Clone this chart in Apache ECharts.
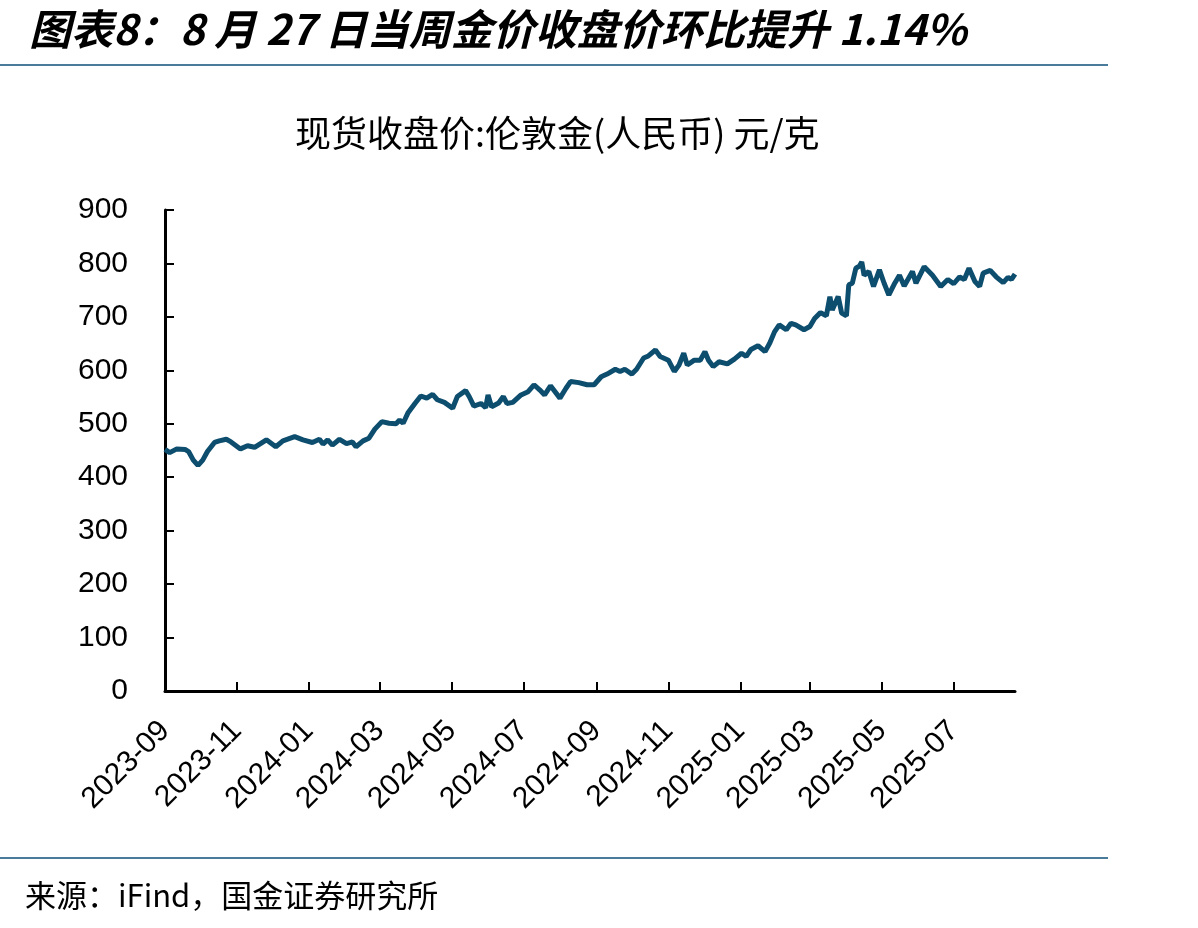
<!DOCTYPE html>
<html>
<head>
<meta charset="utf-8">
<script src="https://cdn.jsdelivr.net/npm/echarts@6/dist/echarts.min.js"></script>
<style>
  html, body { margin: 0; padding: 0; background: #fff; }
  #chartWrap { width: 1198px; height: 928px; }
</style>
</head>
<body>
<div id="chartWrap"></div>
<script>
// 现货收盘价:伦敦金(人民币) 元/克, 近似值
var dates = [
    '2023-09-01', '2023-09-05', '2023-09-11', '2023-09-18', '2023-09-21', '2023-09-25', '2023-09-29',
    '2023-10-03', '2023-10-07', '2023-10-13', '2023-10-17', '2023-10-23', '2023-10-27',
    '2023-11-04', '2023-11-10', '2023-11-16', '2023-11-26',
    '2023-12-04', '2023-12-10', '2023-12-20', '2023-12-27',
    '2024-01-04', '2024-01-10', '2024-01-13', '2024-01-17', '2024-01-21', '2024-01-27',
    '2024-02-02', '2024-02-07', '2024-02-10', '2024-02-16', '2024-02-21', '2024-02-26',
    '2024-03-03', '2024-03-09', '2024-03-15', '2024-03-18', '2024-03-21', '2024-03-25', '2024-03-31',
    '2024-04-05', '2024-04-10', '2024-04-15', '2024-04-19', '2024-04-25',
    '2024-05-02', '2024-05-06', '2024-05-13', '2024-05-16', '2024-05-20', '2024-05-26', '2024-05-30',
    '2024-06-01', '2024-06-04', '2024-06-10', '2024-06-14', '2024-06-17', '2024-06-22', '2024-06-29',
    '2024-07-05', '2024-07-10', '2024-07-15', '2024-07-19', '2024-07-24',
    '2024-08-01', '2024-08-06', '2024-08-10', '2024-08-17', '2024-08-24', '2024-08-30',
    '2024-09-05', '2024-09-10', '2024-09-17', '2024-09-21', '2024-09-25',
    '2024-10-01', '2024-10-05', '2024-10-11', '2024-10-15', '2024-10-21', '2024-10-25',
    '2024-11-01', '2024-11-06', '2024-11-10', '2024-11-14', '2024-11-17', '2024-11-23', '2024-11-28',
    '2024-12-02', '2024-12-05', '2024-12-09', '2024-12-14', '2024-12-21', '2024-12-27',
    '2025-01-02', '2025-01-06', '2025-01-10', '2025-01-16', '2025-01-22', '2025-01-26', '2025-01-30',
    '2025-02-03', '2025-02-09', '2025-02-13', '2025-02-17', '2025-02-24',
    '2025-03-01', '2025-03-05', '2025-03-10', '2025-03-15', '2025-03-18', '2025-03-20', '2025-03-25', '2025-03-28',
    '2025-04-01', '2025-04-03', '2025-04-06', '2025-04-09', '2025-04-12', '2025-04-14', '2025-04-16', '2025-04-20', '2025-04-24', '2025-04-29',
    '2025-05-03', '2025-05-07', '2025-05-12', '2025-05-16', '2025-05-20', '2025-05-27', '2025-05-30',
    '2025-06-06', '2025-06-13', '2025-06-20', '2025-06-26',
    '2025-07-01', '2025-07-06', '2025-07-10', '2025-07-14', '2025-07-19', '2025-07-23', '2025-07-26',
    '2025-08-01', '2025-08-06', '2025-08-12', '2025-08-16', '2025-08-19', '2025-08-22'
];
var prices = [
    452, 446, 453, 452, 448, 432, 422,
    432, 448, 465, 468, 471, 466,
    453, 459, 456, 470,
    457, 468, 476, 470,
    465, 471, 462, 470, 460, 471,
    463, 466, 457, 468, 473, 490,
    504, 501, 500, 507, 501, 520, 538,
    552, 548, 555, 545, 540,
    529, 551, 562, 551, 533, 538, 530,
    554, 532, 539, 551, 538, 540, 554,
    560, 573, 563, 554, 571,
    548, 566, 579, 577, 573, 573,
    588, 593, 602, 598, 602,
    593, 602, 623, 627, 638, 626,
    619, 598, 610, 632, 610, 619, 619,
    635, 619, 607, 616, 612, 621,
    632, 626, 639, 646, 635, 651, 672,
    685, 676, 688, 685, 676,
    682, 697, 708, 702, 738, 713, 738, 707,
    702, 760, 763, 791, 795, 803, 778, 785, 757, 788,
    763, 741, 763, 778, 758, 785, 763,
    794, 778, 757, 770,
    762, 775, 770, 791, 766, 757, 782,
    787, 775, 764, 774, 770, 780
];
// x轴刻度（两个月一个）
var tickMonths = ['2023-09', '2023-11', '2024-01', '2024-03', '2024-05', '2024-07',
    '2024-09', '2024-11', '2025-01', '2025-03', '2025-05', '2025-07'];
var yTicks = [0, 100, 200, 300, 400, 500, 600, 700, 800, 900];

var titleText = '图表8：8 月 27 日当周金价收盘价环比提升 1.14%';
var subTitle = '现货收盘价:伦敦金(人民币) 元/克';
var sourceText = '来源：iFind，国金证券研究所';

// 日期转成时间戳，x轴用value轴 + customValues 控制刻度
var toTime = function (s) {
    var p = s.split('-');
    return Date.UTC(+p[0], +p[1] - 1, p[2] ? +p[2] : 1);
};

var tickValues = tickMonths.map(toTime);
var seriesData = dates.map(function (d, i) { return [toTime(d), prices[i]]; });

var myChart = echarts.init(document.getElementById('chartWrap'));

var option = {
    backgroundColor: '#fff',
    animation: false,
    title: [{
        text: titleText,
        left: 24,
        top: 3,
        textStyle: {
            fontFamily: 'Noto Sans CJK SC',
            fontSize: 42,
            fontWeight: 'bold',
            fontStyle: 'italic',
            color: '#000'
        }
    }, {
        text: subTitle,
        left: 290,
        top: 110,
        textStyle: {
            fontFamily: 'Noto Sans CJK SC',
            fontSize: 36,
            fontWeight: 'normal',
            color: '#000'
        }
    }, {
        text: sourceText,
        left: 20,
        top: 875,
        textStyle: {
            fontFamily: 'Noto Sans CJK SC',
            fontSize: 31,
            fontWeight: 'normal',
            color: '#000'
        }
    }],
    graphic: [{
        type: 'line',
        shape: { x1: 0, y1: 65, x2: 1108, y2: 65 },
        style: { stroke: '#4a7b9b', lineWidth: 2 }
    }, {
        type: 'line',
        shape: { x1: 0, y1: 858, x2: 1108, y2: 858 },
        style: { stroke: '#4a7b9b', lineWidth: 2 }
    }],
    grid: {
        left: 165,
        right: 183,
        top: 210,
        bottom: 237
    },
    xAxis: {
        type: 'value',
        min: toTime(dates[0]),
        max: toTime(dates[dates.length - 1]),
        splitLine: { show: false },
        axisLine: { lineStyle: { color: '#000', width: 3 } },
        axisTick: {
            show: true,
            inside: true,
            length: 9,
            customValues: tickValues,
            lineStyle: { color: '#000', width: 2 }
        },
        axisLabel: {
            customValues: tickValues,
            rotate: 45,
            margin: 35,
            fontFamily: 'Liberation Sans',
            fontSize: 30,
            color: '#000',
            formatter: function (v) {
                var d = new Date(v);
                var m = d.getUTCMonth() + 1;
                return d.getUTCFullYear() + '-' + (m < 10 ? '0' + m : m);
            }
        }
    },
    yAxis: {
        type: 'value',
        min: yTicks[0],
        max: yTicks[yTicks.length - 1],
        interval: 100,
        splitLine: { show: false },
        axisLine: { show: true, lineStyle: { color: '#000', width: 3 } },
        axisTick: {
            show: true,
            inside: true,
            length: 9,
            lineStyle: { color: '#000', width: 2 }
        },
        axisLabel: {
            margin: 37,
            fontFamily: 'Liberation Sans',
            fontSize: 30,
            color: '#000'
        }
    },
    series: [{
        type: 'line',
        data: seriesData,
        showSymbol: false,
        lineStyle: { color: '#0d4d6e', width: 5 },
        itemStyle: { color: '#0d4d6e' }
    }]
};

myChart.setOption(option);
</script>
</body>
</html>
